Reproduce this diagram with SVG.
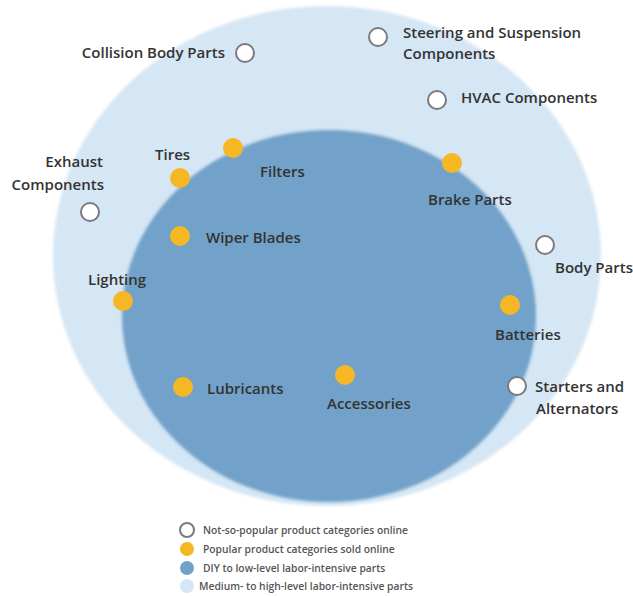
<svg xmlns="http://www.w3.org/2000/svg" width="633" height="596" viewBox="0 0 633 596">
<defs>
<style>
.lbl{font-family:"Open Sans","Liberation Sans",sans-serif;font-weight:600;font-size:15px;fill:#333}
.leg{font-family:"Open Sans","Liberation Sans",sans-serif;font-weight:600;font-size:10.3px;fill:#555}
.pop{fill:#f5b724}
.np{fill:#ffffff;stroke:#7a7a80;stroke-width:2}
</style>
<filter id="soft" x="-5%" y="-5%" width="110%" height="110%"><feGaussianBlur stdDeviation="1.5"/></filter>
</defs>
<rect width="633" height="596" fill="#ffffff"/>
<g id="zones">
<ellipse id="outer" cx="327" cy="256" rx="274" ry="250" fill="#d5e6f4" filter="url(#soft)"/>
<ellipse id="inner" cx="329" cy="316" rx="207" ry="186" fill="#72a2c9" filter="url(#soft)"/>
</g>
<g id="connectors"></g>
<g id="collision"><circle class="np" cx="245" cy="53" r="9"/><text class="lbl" x="225" y="58" text-anchor="end">Collision Body Parts</text></g>
<g id="steering"><circle class="np" cx="378" cy="37" r="9"/><text class="lbl" x="403" y="38">Steering and Suspension</text><text class="lbl" x="403" y="59">Components</text></g>
<g id="hvac"><circle class="np" cx="437" cy="100" r="9"/><text class="lbl" x="461" y="103">HVAC Components</text></g>
<g id="exhaust"><circle class="np" cx="90" cy="212" r="9"/><text class="lbl" x="103" y="167" text-anchor="end">Exhaust</text><text class="lbl" x="104" y="190" text-anchor="end">Components</text></g>
<g id="tires"><circle class="pop" cx="180" cy="178" r="10"/><text class="lbl" x="155" y="160">Tires</text></g>
<g id="filters"><circle class="pop" cx="233" cy="148" r="10"/><text class="lbl" x="260" y="177">Filters</text></g>
<g id="brake"><circle class="pop" cx="452" cy="163" r="10"/><text class="lbl" x="428" y="205">Brake Parts</text></g>
<g id="wiper"><circle class="pop" cx="180" cy="236" r="10"/><text class="lbl" x="206" y="243">Wiper Blades</text></g>
<g id="body"><circle class="np" cx="545" cy="245" r="9"/><text class="lbl" x="555" y="273">Body Parts</text></g>
<g id="lighting"><circle class="pop" cx="123" cy="301" r="10"/><text class="lbl" x="88" y="285">Lighting</text></g>
<g id="batteries"><circle class="pop" cx="510" cy="305" r="10"/><text class="lbl" x="495" y="340">Batteries</text></g>
<g id="lubricants"><circle class="pop" cx="183" cy="387" r="10"/><text class="lbl" x="207" y="394">Lubricants</text></g>
<g id="accessories"><circle class="pop" cx="345" cy="375" r="10"/><text class="lbl" x="327" y="409">Accessories</text></g>
<g id="starters"><circle class="np" cx="517" cy="386" r="9"/><text class="lbl" x="535" y="392">Starters and</text><text class="lbl" x="536" y="414">Alternators</text></g>
<g id="legend">
<circle class="np" cx="187" cy="530" r="7"/><text class="leg" x="203" y="533.5">Not-so-popular product categories online</text>
<circle class="pop" cx="187" cy="549" r="7"/><text class="leg" x="203" y="552.5">Popular product categories sold online</text>
<circle fill="#72a2c9" cx="187" cy="568" r="7"/><text class="leg" x="203" y="571.5">DIY to low-level labor-intensive parts</text>
<circle fill="#d5e6f4" cx="187" cy="586" r="7"/><text class="leg" x="199" y="589.5">Medium- to high-level labor-intensive parts</text>
</g>
</svg>
